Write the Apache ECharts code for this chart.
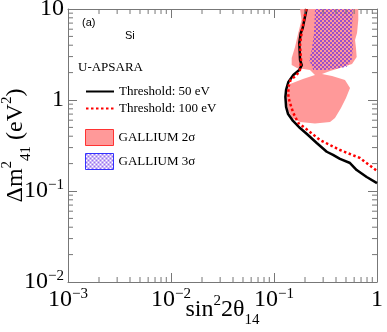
<!DOCTYPE html>
<html>
<head>
<meta charset="utf-8">
<script src="https://cdn.jsdelivr.net/npm/echarts@6/dist/echarts.min.js"></script>
<style>
  html, body { margin: 0; padding: 0; background: #fff; }
  #chart { width: 387px; height: 332px; }
</style>
</head>
<body>
<div id="chart"></div>
<script>
  // 坐标范围
  const xRange = [0.001, 1]
  const yRange = [0.01, 10]

  // 曲线 [sin^2 2θ14, Δm^2_41]
  const threshold50 = [[0.207, 10], [0.190, 6.18], [0.182, 5.45], [0.176, 4.23], [0.179, 2.75], [0.186, 2.42],
    [0.176, 2.14], [0.154, 1.88], [0.138, 1.58], [0.131, 1.29], [0.129, 1.08], [0.131, 0.84], [0.137, 0.70],
    [0.153, 0.588], [0.179, 0.492], [0.21, 0.42], [0.26, 0.337], [0.325, 0.27], [0.374, 0.249], [0.437, 0.225],
    [0.547, 0.203], [0.635, 0.170], [0.794, 0.1425], [1.0, 0.122]]
  const threshold100 = [[0.205, 10], [0.187, 5.88], [0.179, 4.02], [0.183, 2.75], [0.179, 2.14], [0.166, 1.88],
    [0.145, 1.66], [0.138, 1.39], [0.138, 1.08], [0.143, 0.927], [0.154, 0.72], [0.172, 0.559], [0.2, 0.492],
    [0.28, 0.363], [0.437, 0.282], [0.684, 0.2305], [1.0, 0.166]]

  // 允许区域轮廓
  const gallium2 = [[0.179, 10], [0.185, 7.57], [0.172, 5.45], [0.160, 3.82], [0.1485, 2.89], [0.1485, 2.42],
    [0.167, 2.25], [0.2236, 2.14], [0.25, 1.88], [0.191, 1.70], [0.143, 1.50], [0.1337, 1.29], [0.1308, 1.0],
    [0.1367, 0.776], [0.1495, 0.634], [0.179, 0.573], [0.25, 0.552], [0.35, 0.573], [0.391, 0.634], [0.447, 0.817],
    [0.5, 1.05], [0.547, 1.355], [0.489, 1.66], [0.366, 1.835], [0.292, 1.93], [0.35, 2.08], [0.437, 2.25],
    [0.572, 2.49], [0.635, 2.97], [0.625, 3.73], [0.612, 4.56], [0.64, 5.45], [0.658, 7.57], [0.658, 10]]
  const gallium3 = [[0.25, 10], [0.2445, 5.45], [0.232, 3.54], [0.22, 2.75], [0.2407, 2.14], [0.325, 2.14],
    [0.508, 2.30], [0.568, 2.75], [0.585, 3.82], [0.568, 5.45], [0.585, 10]]

  // 次刻度
  const minorTicksX = [0.002, 0.003, 0.004, 0.005, 0.006, 0.007, 0.008, 0.009,
    0.02, 0.03, 0.04, 0.05, 0.06, 0.07, 0.08, 0.09,
    0.2, 0.3, 0.4, 0.5, 0.6, 0.7, 0.8, 0.9]
  const minorTicksY = [0.02, 0.03, 0.04, 0.05, 0.06, 0.07, 0.08, 0.09,
    0.2, 0.3, 0.4, 0.5, 0.6, 0.7, 0.8, 0.9,
    2, 3, 4, 5, 6, 7, 8, 9]

  const serif = 'Liberation Serif'
  const axisColor = '#777'

  // 格子填充
  function checker() {
    const c = document.createElement('canvas')
    c.width = 4
    c.height = 4
    const ctx = c.getContext('2d')
    ctx.fillStyle = 'rgba(100, 40, 230, 0.65)'
    ctx.fillRect(0, 0, 2, 2)
    ctx.fillRect(2, 2, 2, 2)
    return { image: c, repeat: 'repeat' }
  }
  const checkerFill = checker()

  function powLabel(v) {
    const e = Math.round(Math.log10(v))
    if (e === 0) return '{b|1}'
    if (e === 1) return '{b|10}'
    return '{b|10}{s|\u2212' + (-e) + '}'
  }
  const labelRich = {
    b: { fontFamily: serif, fontSize: 24, lineHeight: 24, verticalAlign: 'bottom', color: '#000' },
    s: { fontFamily: serif, fontSize: 15, lineHeight: 15, padding: [0, 0, 10, 0], verticalAlign: 'bottom', color: '#000' }
  }
  const nameRich = {
    t: { fontFamily: serif, fontSize: 24, lineHeight: 24, padding: [0, 0, 6, 0], verticalAlign: 'bottom', color: '#000' },
    p: { fontFamily: serif, fontSize: 15, lineHeight: 15, padding: [0, 0, 19, 0], verticalAlign: 'bottom', color: '#000' },
    u: { fontFamily: serif, fontSize: 15, lineHeight: 15, verticalAlign: 'bottom', color: '#000' }
  }

  function logAxis(range, extra) {
    return Object.assign({
      type: 'log',
      logBase: 10,
      min: range[0],
      max: range[1],
      axisLine: { show: true, lineStyle: { color: axisColor, width: 1 } },
      axisTick: { show: true, inside: true, length: 9, lineStyle: { color: axisColor } },
      splitLine: { show: false },
      axisLabel: { show: false }
    }, extra)
  }

  function minorTickSeries(ticks, isX) {
    return {
      type: 'custom',
      silent: true,
      z: 5,
      data: ticks.map(v => isX ? [v, yRange[0]] : [xRange[0], v]),
      renderItem: (params, api) => {
        const v = api.value(isX ? 0 : 1)
        const a = api.coord(isX ? [v, yRange[0]] : [xRange[0], v])
        const b = api.coord(isX ? [v, yRange[1]] : [xRange[1], v])
        const st = { stroke: axisColor, lineWidth: 1 }
        const shapes = isX
          ? [{ x1: a[0], y1: a[1], x2: a[0], y2: a[1] - 5 }, { x1: b[0], y1: b[1], x2: b[0], y2: b[1] + 5 }]
          : [{ x1: a[0], y1: a[1], x2: a[0] + 5, y2: a[1] }, { x1: b[0], y1: b[1], x2: b[0] - 5, y2: b[1] }]
        return { type: 'group', children: shapes.map(s => ({ type: 'line', shape: s, style: st })) }
      }
    }
  }

  function regionSeries(name, points, fill, z) {
    return {
      name: name,
      type: 'custom',
      z: z,
      itemStyle: { color: fill },
      data: [points[0]],
      renderItem: (params, api) => ({
        type: 'polygon',
        shape: { points: points.map(p => api.coord(p)) },
        style: { fill: fill }
      })
    }
  }

  const legendText = { fontFamily: serif, fontSize: 13, color: '#000' }

  const chart = echarts.init(document.getElementById('chart'))
  chart.setOption({
    animation: false,
    backgroundColor: '#fff',
    grid: { left: 68, right: 10, top: 9, bottom: 50, containLabel: false, outerBoundsMode: 'none' },
    xAxis: [
      logAxis(xRange, {
        position: 'bottom',
        axisLabel: { show: true, margin: 6, formatter: powLabel, rich: labelRich },
        name: '{t|sin}{p|2}{t|2\u03b8}{u|14}',
        nameLocation: 'middle',
        nameGap: 22,
        nameMoveOverlap: false,
        nameTextStyle: { rich: nameRich }
      }),
      logAxis(xRange, { position: 'top' })
    ],
    yAxis: [
      logAxis(yRange, {
        position: 'left',
        axisLabel: { show: true, margin: 4, formatter: powLabel, rich: labelRich },
        name: '{t|\u0394m}{p|2}{u|41}{t| (eV}{p|2}{t|)}',
        nameLocation: 'middle',
        nameRotate: 90,
        nameGap: 34,
        nameMoveOverlap: false,
        nameTextStyle: { rich: nameRich }
      }),
      logAxis(yRange, { position: 'right' })
    ],
    legend: [{
      orient: 'vertical',
      left: 80,
      top: 80,
      itemWidth: 28,
      itemHeight: 16,
      itemGap: 4,
      itemTextGap: 5,
      selectedMode: false,
      itemStyle: { opacity: 0 },
      textStyle: legendText,
      data: ['Threshold: 50 eV', 'Threshold: 100 eV']
    }, {
      orient: 'vertical',
      left: 80,
      top: 124,
      itemWidth: 28,
      itemHeight: 16,
      itemGap: 7,
      itemTextGap: 5,
      selectedMode: false,
      textStyle: legendText,
      data: [
        { name: 'GALLIUM 2\u03c3', icon: 'rect', itemStyle: { color: '#ff9999', borderColor: '#ff3333', borderWidth: 1 } },
        { name: 'GALLIUM 3\u03c3', icon: 'rect', itemStyle: { color: checkerFill, borderColor: '#3333ff', borderWidth: 1 } }
      ]
    }],
    graphic: [
      { type: 'text', left: 82, top: 17, style: { text: '(a)', font: '11px "Liberation Sans"', fill: '#000' } },
      { type: 'text', left: 125, top: 30, style: { text: 'Si', font: '11px "Liberation Sans"', fill: '#000' } },
      { type: 'text', left: 78, top: 61, style: { text: 'U-APSARA', font: '13px "Liberation Serif"', fill: '#000' } }
    ],
    series: [
      regionSeries('GALLIUM 2\u03c3', gallium2, '#ff9999', 1),
      regionSeries('GALLIUM 3\u03c3', gallium3, checkerFill, 2),
      {
        name: 'Threshold: 50 eV',
        type: 'line',
        z: 3,
        symbol: 'none',
        lineStyle: { color: '#000', width: 2.5 },
        itemStyle: { color: '#000' },
        data: threshold50
      },
      {
        name: 'Threshold: 100 eV',
        type: 'line',
        z: 4,
        symbol: 'none',
        lineStyle: { color: '#ff0000', width: 2.5, type: [2.5, 2.5] },
        itemStyle: { color: '#ff0000' },
        data: threshold100
      },
      minorTickSeries(minorTicksX, true),
      minorTickSeries(minorTicksY, false)
    ]
  })
</script>
</body>
</html>
